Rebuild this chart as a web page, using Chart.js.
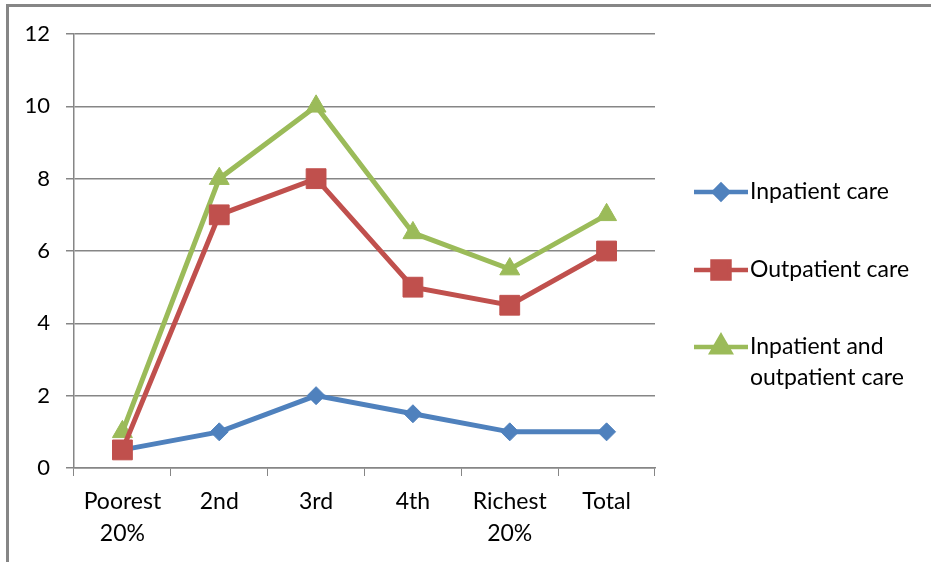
<!DOCTYPE html>
<html>
<head>
<meta charset="utf-8">
<script src="https://cdn.jsdelivr.net/npm/chart.js@4.4.0/dist/chart.umd.min.js"></script>
<style>
    html, body { margin: 0; padding: 0; background: #fff; }
    #wrap { position: relative; width: 931px; height: 562px; overflow: hidden; }
    #frame { position: absolute; left: 6px; top: 4px; width: 1000px; height: 1000px;
             border-top: 3px solid #868686; border-left: 3px solid #868686; }
    #myChart { position: absolute; left: 0; top: 0; }
</style>
</head>
<body>
<div id="wrap">
    <div id="frame"></div>
    <canvas id="myChart" width="931" height="562"></canvas>
</div>
<script>
// data
const categories = [['Poorest', '20%'], '2nd', '3rd', '4th', ['Richest', '20%'], 'Total'];
const seriesNames = ['Inpatient care', 'Outpatient care', 'Inpatient and outpatient care'];
const legendLines = [['Inpatient care'], ['Outpatient care'], ['Inpatient and', 'outpatient care']];
const inpatient = [0.5, 1, 2, 1.5, 1, 1];
const outpatient = [0.5, 7, 8, 5, 4.5, 6];
const inAndOutpatient = [1, 8, 10, 6.5, 5.5, 7];
const yTicks = [0, 2, 4, 6, 8, 10, 12];

const colors = ['#4F81BD', '#C0504D', '#9BBB59'];
const markers = ['rectRot', 'rect', 'triangle'];
const markerSize = [9, 14, 11.5];
const legendMarkerSize = [7, 12, 10.5];
const FONT = 'Lato, "Open Sans", sans-serif';
const GRID = '#868686';

// legend drawn by hand so the long label can wrap onto two lines
const sideLegend = {
    id: 'sideLegend',
    afterDraw(chart) {
        const ctx = chart.ctx;
        const x0 = chart.chartArea.right + 39;
        const rows = [192, 270, 347];
        ctx.save();
        chart.data.datasets.forEach((ds, i) => {
            const y = rows[i];
            ctx.strokeStyle = ds.borderColor;
            ctx.lineWidth = 4.5;
            ctx.beginPath();
            ctx.moveTo(x0, y);
            ctx.lineTo(x0 + 54, y);
            ctx.stroke();
            ctx.fillStyle = ds.borderColor;
            ctx.strokeStyle = ds.borderColor;
            Chart.helpers.drawPoint(ctx, {
                pointStyle: ds.pointStyle, radius: legendMarkerSize[i], rotation: 0, borderWidth: 1
            }, x0 + 27, y);
            ctx.fillStyle = '#000';
            ctx.font = '23px ' + FONT;
            ctx.textBaseline = 'middle';
            ctx.textAlign = 'left';
            legendLines[i].forEach((line, j) => {
                ctx.fillText(line, x0 + 56, y + j * 31);
            });
        });
        ctx.restore();
    }
};

const seriesValues = [inpatient, outpatient, inAndOutpatient];
const drawOrder = [1, 0, 2];

const ctx = document.getElementById('myChart').getContext('2d');
const chart = new Chart(ctx, {
    type: 'line',
    data: {
        labels: categories,
        datasets: seriesValues.map((vals, i) => ({
            label: seriesNames[i],
            data: vals,
            borderColor: colors[i],
            backgroundColor: colors[i],
            pointBackgroundColor: colors[i],
            pointBorderColor: colors[i],
            pointStyle: markers[i],
            pointRadius: markerSize[i],
            pointBorderWidth: 1,
            borderWidth: 5,
            tension: 0,
            fill: false,
            order: drawOrder[i]
        }))
    },
    options: {
        responsive: false,
        animation: false,
        events: [],
        layout: { padding: { top: 34, right: 276, left: 0, bottom: 0 } },
        plugins: {
            legend: { display: false },
            tooltip: { enabled: false }
        },
        scales: {
            x: {
                offset: true,
                grid: {
                    offset: true,
                    drawOnChartArea: false,
                    drawTicks: true,
                    tickLength: 8,
                    color: GRID,
                    lineWidth: 1
                },
                border: { color: GRID, width: 1.5 },
                ticks: {
                    color: '#000',
                    padding: 10,
                    maxRotation: 0,
                    autoSkip: false,
                    font: { family: FONT, size: 23, lineHeight: 1.37 }
                },
                afterFit: (scale) => { scale.height = 94; }
            },
            y: {
                min: yTicks[0],
                max: yTicks[yTicks.length - 1],
                afterBuildTicks: (scale) => { scale.ticks = yTicks.map(v => ({ value: v })); },
                grid: { color: GRID, lineWidth: 1.5, tickLength: 8 },
                border: { color: GRID, width: 1.5 },
                ticks: {
                    color: '#000',
                    padding: 16,
                    font: { family: FONT, size: 22 }
                },
                afterFit: (scale) => { scale.width = 74; }
            }
        }
    },
    plugins: [sideLegend]
});
</script>
</body>
</html>
